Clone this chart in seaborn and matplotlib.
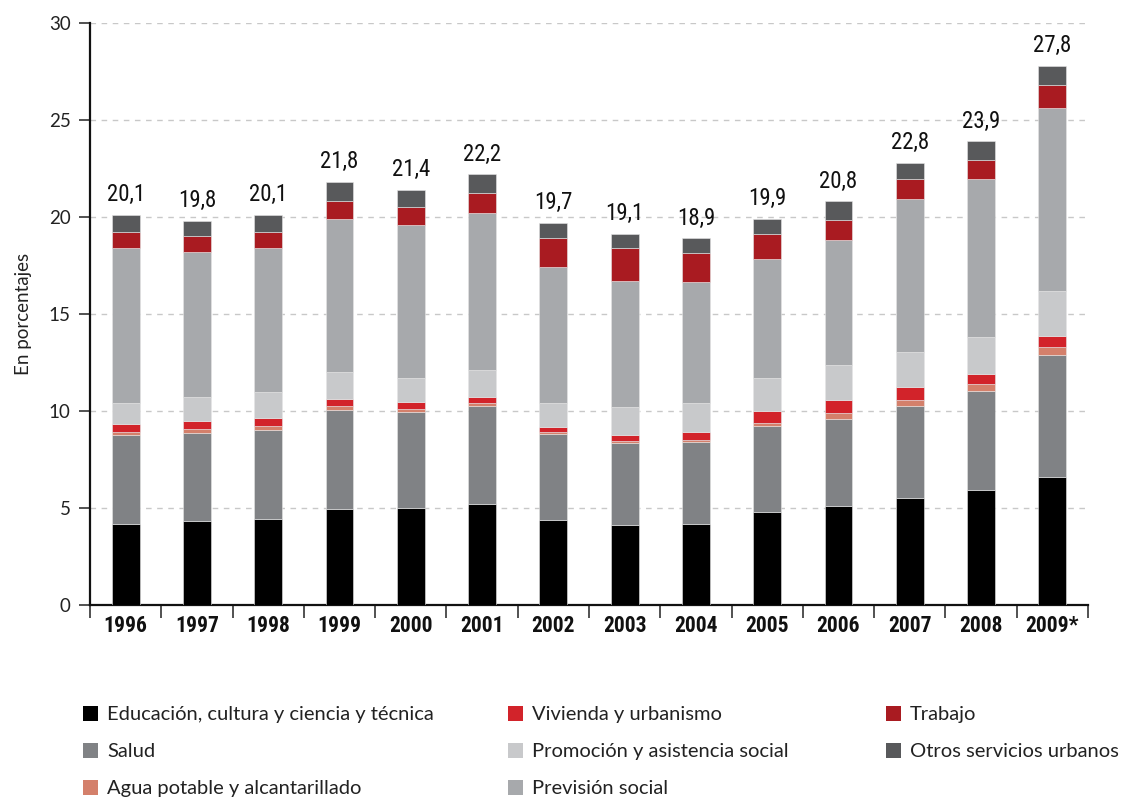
import matplotlib
matplotlib.use("Agg")
import matplotlib.pyplot as plt
import seaborn as sns
import numpy as np
import pandas as pd
from matplotlib.patches import Patch
from matplotlib import font_manager

years = ["1996", "1997", "1998", "1999", "2000", "2001", "2002", "2003",
         "2004", "2005", "2006", "2007", "2008", "2009*"]

educacion = [4.18, 4.33, 4.43, 4.95, 5.00, 5.22, 4.38, 4.12, 4.18, 4.79, 5.10, 5.49, 5.95, 6.61]
salud     = [4.58, 4.55, 4.61, 5.12, 4.97, 5.05, 4.43, 4.23, 4.22, 4.44, 4.51, 4.76, 5.08, 6.27]
agua      = [0.17, 0.17, 0.17, 0.17, 0.12, 0.12, 0.12, 0.10, 0.12, 0.17, 0.27, 0.33, 0.37, 0.43]
vivienda  = [0.40, 0.45, 0.45, 0.40, 0.36, 0.35, 0.25, 0.31, 0.40, 0.62, 0.68, 0.67, 0.53, 0.58]
promocion = [1.08, 1.22, 1.32, 1.37, 1.25, 1.37, 1.23, 1.45, 1.49, 1.68, 1.79, 1.79, 1.86, 2.28]
prevision = [7.98, 7.46, 7.41, 7.89, 7.89, 8.10, 7.03, 6.51, 6.26, 6.12, 6.44, 7.89, 8.19, 9.47]
trabajo   = [0.86, 0.82, 0.82, 0.94, 0.93, 1.04, 1.46, 1.67, 1.46, 1.29, 1.07, 1.02, 0.98, 1.17]
otros     = [0.85, 0.80, 0.89, 0.96, 0.88, 0.95, 0.80, 0.73, 0.77, 0.79, 0.94, 0.85, 0.94, 0.99]

totals = ["20,1", "19,8", "20,1", "21,8", "21,4", "22,2", "19,7", "19,1",
          "18,9", "19,9", "20,8", "22,8", "23,9", "27,8"]

series_names = ["Educación, cultura y ciencia y técnica", "Salud",
                "Agua potable y alcantarillado", "Vivienda y urbanismo",
                "Promoción y asistencia social", "Previsión social",
                "Trabajo", "Otros servicios urbanos"]
series_vals = [educacion, salud, agua, vivienda, promocion, prevision, trabajo, otros]
colors = ["#000000", "#808285", "#d4806b", "#d2232a", "#c8c9cb", "#a7a9ac", "#a91b21", "#58595b"]

sns.set_theme(style="white")
plt.rcParams['font.family'] = ['Lato', 'DejaVu Sans']

# pick a narrow font if one is installed
available = {f.name for f in font_manager.fontManager.ttflist}
narrow = None
for cand in ["Liberation Sans Narrow", "DejaVu Sans Condensed", "Roboto Condensed",
             "Open Sans Condensed", "Noto Sans Condensed"]:
    if cand in available:
        narrow = cand
        break
if narrow is None:
    narrow_kw = dict(family=["DejaVu Sans"], stretch="condensed")
else:
    narrow_kw = dict(family=[narrow, "DejaVu Sans"])

fig = plt.figure(figsize=(11.22, 7.98), dpi=100)
ax = fig.add_axes([90/1122, 1-605/798, (1088-90)/1122, (605-23)/798])

bottom = np.zeros(len(years))
for name, vals, c in zip(series_names, series_vals, colors):
    df = pd.DataFrame({"year": years, "val": vals})
    sns.barplot(data=df, x="year", y="val", bottom=bottom, color=c, saturation=1,
                width=0.39, ax=ax, edgecolor="#e6e6e6", linewidth=0.4, zorder=3)
    bottom = bottom + np.array(vals)

for i, (t, b) in enumerate(zip(totals, bottom)):
    ax.text(i, b + 0.45, t, ha="center", va="bottom", fontsize=16.5,
            color="#111111", **narrow_kw)

ax.set_xlim(-0.5, 13.5)
ax.set_ylim(0, 30)
ax.set_yticks(range(0, 31, 5))
ax.yaxis.grid(True, linestyle=(0, (4, 4)), color="#c8c8c8", linewidth=1, zorder=0)
ax.xaxis.grid(False)
for s in ["top", "right"]:
    ax.spines[s].set_visible(False)
for s in ["left", "bottom"]:
    ax.spines[s].set_color("#111111")
    ax.spines[s].set_linewidth(1.6)

ax.set_xlabel("")
ax.set_ylabel("En porcentajes", fontsize=13.5, color="#222222", labelpad=12)
ax.tick_params(axis="y", direction="out", length=8, width=1.2, color="#333333",
               labelsize=13.5, pad=6, left=True)
ax.set_yticklabels([str(v) for v in range(0, 31, 5)], color="#222222")

ax.set_xticks(np.arange(len(years)))
ax.set_xticklabels(years, fontweight="bold", fontsize=15.5, color="#111111", **narrow_kw)
ax.tick_params(axis="x", length=0, pad=7)
ax.set_xticks(np.arange(-0.5, 14, 1), minor=True)
ax.tick_params(axis="x", which="minor", direction="out", length=9, width=1.2, color="#333333", bottom=True)

handles = [Patch(facecolor=c, edgecolor="none") for c in colors]
groups = [(0, 3, 83/1122), (3, 6, 508/1122), (6, 8, 886/1122)]
for a, b, xpos in groups:
    leg = fig.legend(handles[a:b], series_names[a:b], loc="upper left",
                     bbox_to_anchor=(xpos, 1-706/798), ncol=1, frameon=False,
                     fontsize=14.5, handlelength=0.75, handleheight=0.75,
                     handletextpad=0.45, labelspacing=0.97, borderpad=0, borderaxespad=0)
    for t in leg.get_texts():
        t.set_color("#222222")

fig.savefig("out.png", dpi=100)
